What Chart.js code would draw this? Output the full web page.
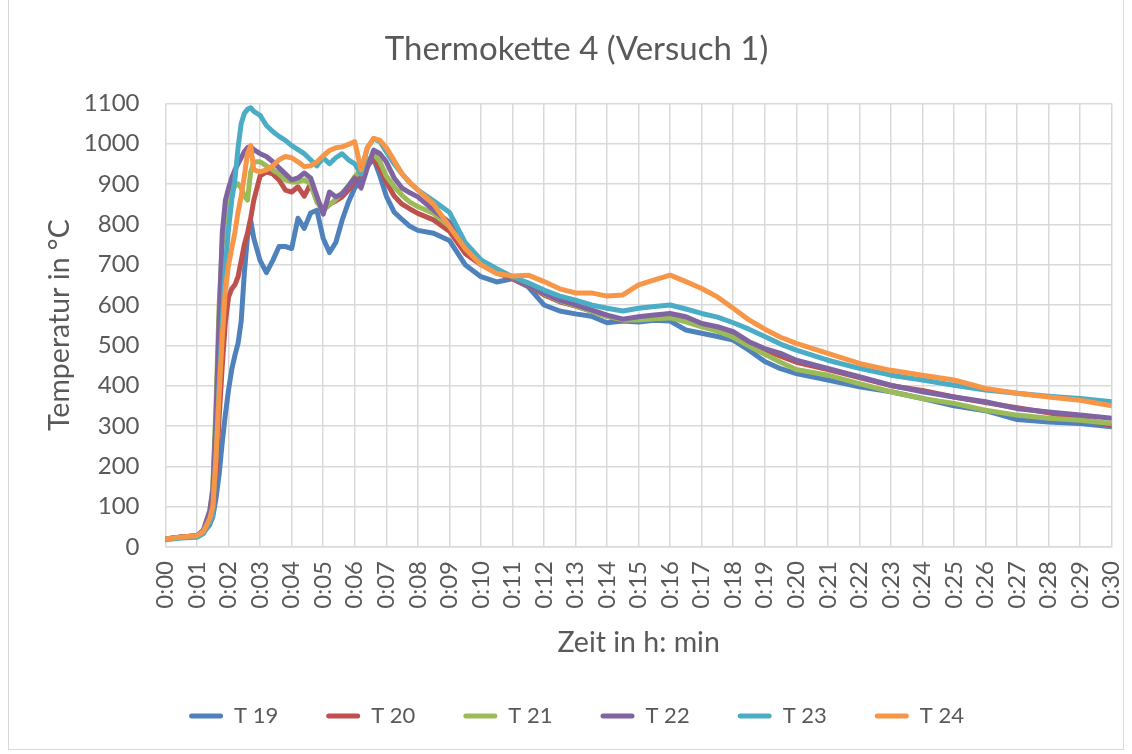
<!DOCTYPE html>
<html>
<head>
<meta charset="utf-8">
<script src="https://cdn.jsdelivr.net/npm/chart.js@4.4.1/dist/chart.umd.min.js"></script>
<style>
  html, body { margin:0; padding:0; background:#fff; }
  #wrap { position:relative; width:1132px; height:754px; }
  #frame { position:absolute; left:8px; top:-1px; width:1116px; height:751px; border:1px solid #d9d9d9; box-sizing:border-box; }
</style>
</head>
<body>
<div id="wrap">
  <div id="frame"></div>
  <canvas id="chart" width="1132" height="754"></canvas>
</div>
<script>
// time in minutes since start
const times = [0, 0.5, 1, 1.2, 1.4,
  1.5, 1.6, 1.7, 1.8, 1.9, 2.0, 2.1, 2.2, 2.3, 2.4, 2.5, 2.6, 2.7, 2.8,
  3.0, 3.2, 3.4, 3.6, 3.8, 4.0, 4.2, 4.4, 4.6, 4.8, 5.0, 5.2, 5.4, 5.6, 5.8, 6.0, 6.2, 6.4, 6.6, 6.8, 7.0,
  7.25, 7.5, 7.75, 8,
  8.5, 9, 9.5, 10, 10.5, 11, 11.5, 12, 12.5, 13, 13.5, 14, 14.5, 15, 15.5, 16, 16.5, 17, 17.5, 18, 18.5, 19, 19.5, 20,
  21, 22, 23, 24, 25, 26, 27, 28, 29, 30];

const t19 = [20, 24, 28, 35, 55,
  75, 120, 180, 260, 330, 390, 440, 475, 505, 560, 680, 770, 810, 765,
  710, 680, 710, 745, 745, 740, 815, 790, 828, 835, 765, 730, 755, 810, 855, 890, 910, 945, 962, 920, 870,
  830, 812, 795, 785,
  778, 760, 700, 670, 657, 665, 645, 600, 585, 578, 572, 556, 560, 558, 562, 560, 538, 530, 522, 513, 488, 460, 442, 430,
  414, 397, 385, 368, 350, 338, 316, 310, 306, 298];
const t20 = [20, 25, 28, 38, 62,
  85, 180, 320, 450, 560, 620, 640, 650, 670, 710, 750, 778, 815, 860,
  920, 930, 925, 910, 885, 880, 893, 870, 900, 860, 835, 850, 858, 868, 885, 905, 928, 955, 962, 938, 905,
  870, 850, 838, 827,
  811, 783, 728, 700, 680, 665, 648, 625, 608, 597, 585, 572, 562, 568, 572, 576, 566, 550, 542, 530, 505, 488, 473, 458,
  440, 420, 400, 388, 372, 358, 345, 333, 318, 302];
const t21 = [20, 25, 28, 40, 80,
  150, 350, 600, 750, 820, 860, 880, 895, 900, 890, 870, 860, 930, 955,
  955, 945, 935, 925, 910, 905, 905, 910, 900, 855, 835, 848, 862, 878, 895, 918, 935, 955, 975, 955, 920,
  893, 872, 855, 844,
  827, 795, 745, 710, 685, 668, 650, 628, 610, 598, 585, 572, 563, 563, 566, 568, 558, 546, 535, 520, 498, 478, 458, 440,
  426, 405, 385, 368, 356, 339, 327, 319, 314, 306];
const t22 = [20, 25, 28, 42, 90,
  140, 320, 560, 780, 860, 890, 915, 935, 950, 965, 980, 990, 993, 985,
  975, 968, 955, 940, 925, 910, 915, 927, 915, 870, 825, 880, 868, 875, 895, 915, 890, 940, 984, 975, 955,
  915, 890, 878, 868,
  835, 805, 745, 708, 685, 668, 650, 629, 612, 600, 588, 575, 565, 571, 575, 579, 571, 554, 546, 534, 509, 492, 480, 463,
  443, 422, 401, 385, 372, 360, 343, 335, 327, 319];
const t23 = [18, 22, 24, 33, 60,
  80, 220, 400, 560, 700, 790, 860, 910, 990, 1050, 1075, 1085, 1089, 1080,
  1070, 1045, 1030, 1018, 1008, 995, 985, 975, 960, 945, 965, 950, 965, 975, 960, 950, 925, 990, 1012, 1005, 980,
  950, 925, 903, 885,
  858, 830, 755, 712, 690, 670, 655, 637, 622, 612, 600, 592, 585, 592, 596, 600, 590, 579, 570, 556, 540, 522, 503, 488,
  463, 443, 426, 414, 401, 389, 381, 374, 368, 360];
const t24 = [20, 25, 28, 38, 70,
  100, 220, 380, 520, 640, 700, 740, 780, 830, 870, 920, 975, 995, 935,
  930, 935, 945, 960, 968, 965, 955, 943, 945, 955, 970, 983, 990, 992, 998, 1005, 935, 990, 1013, 1008, 990,
  958, 925, 903, 885,
  850, 795, 740, 700, 678, 672, 674, 658, 640, 630, 630, 622, 625, 650, 662, 674, 658, 641, 620, 592, 563, 540, 520, 505,
  480, 455, 438, 426, 414, 393, 381, 372, 364, 350];

const seriesNames = ['T 19', 'T 20', 'T 21', 'T 22', 'T 23', 'T 24'];
const seriesValues = [t19, t20, t21, t22, t23, t24];
const seriesColors = ['#4F81BD', '#C0504D', '#9BBB59', '#8064A2', '#4BACC6', '#F79646'];

const FONT = 'Lato, "Open Sans", sans-serif';
const TXT = '#595959';
const GRID = '#d9d9d9';

function fmtTime(v){ return '0:' + String(v).padStart(2, '0'); }

const datasets = seriesNames.map((name, i) => ({
  label: name,
  data: times.map((t, k) => ({ x: t, y: seriesValues[i][k] })),
  borderColor: seriesColors[i],
  backgroundColor: seriesColors[i],
  borderWidth: 5,
  borderJoinStyle: 'round',
  borderCapStyle: 'round',
  pointRadius: 0,
  tension: 0,
  order: seriesNames.length - i   // later series on top, as in Excel
}));

new Chart(document.getElementById('chart'), {
  type: 'line',
  data: { datasets },
  options: {
    responsive: false,
    animation: false,
    layout: { padding: { left: 21, right: 0, top: 0, bottom: 17 } },
    plugins: {
      tooltip: { enabled: false },
      title: {
        display: true,
        text: 'Thermokette 4 (Versuch 1)',
        color: TXT,
        font: { family: FONT, size: 33, weight: 'normal', lineHeight: 1.2 },
        padding: { top: 30, bottom: 33.7 }
      },
      legend: {
        position: 'bottom',
        labels: {
          color: TXT,
          font: { family: FONT, size: 22 },
          boxWidth: 34,
          boxHeight: 5,
          useBorderRadius: true,
          borderRadius: 2.5,
          padding: 48,
          sort: (a, b) => a.datasetIndex - b.datasetIndex,
          generateLabels: chart => Chart.defaults.plugins.legend.labels.generateLabels(chart)
            .map(l => Object.assign(l, { fillStyle: l.strokeStyle, lineWidth: 0 }))
        }
      }
    },
    scales: {
      x: {
        type: 'linear',
        min: 0, max: 30,
        afterFit: s => { s.height = 110; s.paddingRight = 20.3; },
        ticks: {
          stepSize: 1, autoSkip: false, minRotation: 90, maxRotation: 90,
          padding: 14, color: TXT,
          font: { family: FONT, size: 24 },
          callback: v => fmtTime(v)
        },
        grid: { color: GRID, lineWidth: 1.5, drawTicks: false },
        border: { color: GRID, width: 1.5 },
        title: {
          display: true, text: 'Zeit in h: min', color: TXT,
          font: { family: FONT, size: 28.5, lineHeight: 1 },
          padding: { top: 0, bottom: 0 }
        }
      },
      y: {
        min: 0, max: 1100,
        afterFit: s => { s.width = 144.5; },
        ticks: {
          stepSize: 100, padding: 26, color: TXT,
          font: { family: FONT, size: 24 },
          callback: v => String(v)
        },
        grid: { color: GRID, lineWidth: 1.5, drawTicks: false },
        border: { display: false },
        title: {
          display: true, text: 'Temperatur in °C', color: TXT,
          font: { family: FONT, size: 28.5, lineHeight: 1.2 },
          padding: { top: 22, bottom: 0 }
        }
      }
    }
  }
});
</script>
</body>
</html>
